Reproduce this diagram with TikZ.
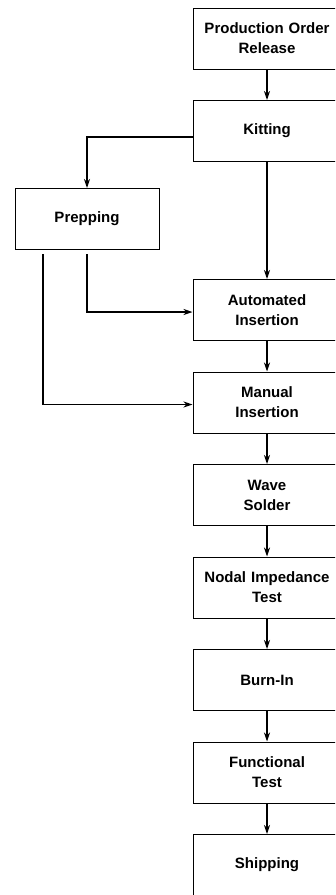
\documentclass[tikz,border=0pt]{standalone}
\usepackage{fontspec}
\setsansfont{Liberation Sans}
\usetikzlibrary{arrows.meta, positioning}

\begin{document}
\begin{tikzpicture}[x=1pt, y=-1pt, node distance=30.5pt,
stage/.style={rectangle, draw=black, line width=1pt, fill=white,
text width=140pt, minimum width=148pt, minimum height=61pt,
inner sep=4pt, align=center,
font=\sffamily\bfseries\fontsize{15}{20}\selectfont},
flow/.style={-{Stealth[length=9pt, width=6pt]}, line width=1.3pt}]
\useasboundingbox (0,0) rectangle (335,895);
\clip (0,0) rectangle (335,895);
\fill[white] (0,0) rectangle (335,895);
\node[stage] (release) at (267,38.5) {Production Order\\Release};
\node[stage, below=of release] (kitting) {Kitting};
\node[stage, minimum width=144pt, text width=136pt] (prepping) at (87,219) {Prepping};
\node[stage, below=117pt of kitting] (auto) {Automated\\Insertion};
\node[stage, below=of auto] (manual) {Manual\\Insertion};
\node[stage, below=of manual] (wave) {Wave\\Solder};
\node[stage, below=of wave] (nodal) {Nodal Impedance\\Test};
\node[stage, below=of nodal] (burnin) {Burn-In};
\node[stage, below=of burnin] (func) {Functional\\Test};
\node[stage, below=of func] (ship) {Shipping};
\coordinate (prepA) at ([yshift=-4pt]prepping.south);
\coordinate (prepM) at ([xshift=-44pt, yshift=-4pt]prepping.south);
\draw[flow] (release) -- (kitting);
\draw[flow] ([yshift=-6pt]kitting.west) -| (prepping.north);
\draw[flow] (kitting) -- (auto);
\draw[flow] (prepA) |- ([yshift=-2pt]auto.west);
\draw[flow] (prepM) |- ([yshift=-2pt]manual.west);
\draw[flow] (auto)    -- (manual);
\draw[flow] (manual)  -- (wave);
\draw[flow] (wave)    -- (nodal);
\draw[flow] (nodal)   -- (burnin);
\draw[flow] (burnin)  -- (func);
\draw[flow] (func)    -- (ship);
\end{tikzpicture}
\end{document}
